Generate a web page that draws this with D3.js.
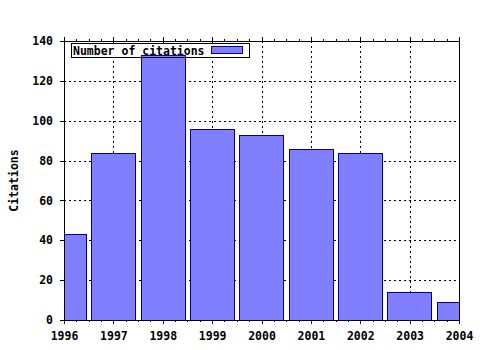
<!DOCTYPE html>
<html lang="en">
<head>
  <meta charset="UTF-8">
  <title>Citations per year</title>
  <script src="https://d3js.org/d3.v7.min.js"></script>
  <style>
    body { margin: 0; background: #fff; }
    text { font-family: "DejaVu Sans Mono", monospace; font-weight: bold; font-size: 11.5px; fill: #000; }
  </style>
</head>
<body>
  <svg width="480" height="350"></svg>
  <script>
    // data
    const years = [1996, 1997, 1998, 1999, 2000, 2001, 2002, 2003, 2004];
    const citations = [43, 84, 133, 96, 93, 86, 84, 14, 9];
    const yTicks = [0, 20, 40, 60, 80, 100, 120, 140];
    const seriesName = "Number of citations";
    const yLabel = "Citations";

    const svg = d3.select("svg");
    const plotL = 64, plotR = 459, plotT = 41, plotB = 320;

    const x = d3.scaleLinear().domain([1996, 2004]).range([plotL, plotR]);
    const y = d3.scaleLinear().domain([0, 140]).range([plotB, plotT]);
    const barW = x(1996.9) - x(1996);

    const data = years.map((yr, i) => ({ year: yr, value: citations[i] }));

    // grid
    const grid = svg.append("g")
      .attr("stroke", "#000")
      .attr("stroke-dasharray", "2,3")
      .attr("shape-rendering", "crispEdges");
    grid.selectAll(".gx")
      .data(years.slice(1, -1))
      .enter()
      .append("line")
      .attr("x1", d => Math.round(x(d)) + 0.5)
      .attr("x2", d => Math.round(x(d)) + 0.5)
      .attr("y1", plotT)
      .attr("y2", plotB);
    grid.selectAll(".gy")
      .data(yTicks.slice(1, -1))
      .enter()
      .append("line")
      .attr("x1", plotL)
      .attr("x2", plotR)
      .attr("y1", d => Math.round(y(d)) + 0.5)
      .attr("y2", d => Math.round(y(d)) + 0.5);

    // key background hides the grid
    const keyX = 71, keyY = 43, keyW = 178, keyH = 14;
    svg.append("rect")
      .attr("x", keyX).attr("y", keyY)
      .attr("width", keyW).attr("height", keyH)
      .attr("fill", "#fff");

    // bars
    svg.append("clipPath").attr("id", "plot")
      .append("rect")
      .attr("x", plotL).attr("y", plotT)
      .attr("width", plotR - plotL).attr("height", plotB - plotT);

    svg.append("g")
      .attr("clip-path", "url(#plot)")
      .selectAll("rect")
      .data(data)
      .enter()
      .append("rect")
      .attr("x", d => Math.round(x(d.year) - barW / 2) + 0.5)
      .attr("y", d => Math.round(y(d.value)) + 0.5)
      .attr("width", Math.round(barW))
      .attr("height", d => Math.round(plotB - y(d.value)))
      .attr("fill", "#8080ff")
      .attr("stroke", "#0000a0")
      .attr("stroke-width", 1)
      .attr("shape-rendering", "crispEdges");

    // axes
    svg.append("g")
      .attr("transform", `translate(0, ${plotB})`)
      .call(d3.axisBottom(x)
        .tickValues(years)
        .tickFormat(d3.format("d"))
        .tickSize(4)
        .tickPadding(8));

    svg.append("g")
      .attr("transform", `translate(0, ${plotT})`)
      .call(d3.axisTop(x).tickValues(years).tickSize(4).tickFormat(""));

    // minor ticks at quarter years
    const minor = d3.range(1996, 2004, 0.25).filter(v => v % 1 !== 0);
    svg.append("g")
      .attr("transform", `translate(0, ${plotB})`)
      .call(d3.axisBottom(x).tickValues(minor).tickSize(2).tickFormat(""))
      .select(".domain").remove();
    svg.append("g")
      .attr("transform", `translate(0, ${plotT})`)
      .call(d3.axisTop(x).tickValues(minor).tickSize(2).tickFormat(""))
      .select(".domain").remove();

    svg.append("g")
      .attr("transform", `translate(${plotL}, 0)`)
      .call(d3.axisLeft(y).tickValues(yTicks).tickSize(4).tickPadding(7));

    svg.append("g")
      .attr("transform", `translate(${plotR}, 0)`)
      .call(d3.axisRight(y).tickValues(yTicks).tickSize(0).tickFormat(""));

    svg.selectAll(".domain").attr("stroke-width", 1.6).attr("shape-rendering", "crispEdges");
    svg.selectAll(".tick line").attr("shape-rendering", "crispEdges");
    svg.selectAll(".tick text")
      .style("font-family", "DejaVu Sans Mono, monospace")
      .style("font-weight", "bold")
      .style("font-size", "11.5px");

    // y label
    svg.append("text")
      .attr("transform", `translate(18, ${(plotT + plotB) / 2}) rotate(-90)`)
      .attr("text-anchor", "middle")
      .text(yLabel);

    // key
    svg.append("rect")
      .attr("x", keyX + 0.5).attr("y", keyY + 0.5)
      .attr("width", keyW).attr("height", keyH)
      .attr("fill", "none")
      .attr("stroke", "#000");
    svg.append("text")
      .attr("x", keyX + 2).attr("y", keyY + 12)
      .text(seriesName);
    svg.append("rect")
      .attr("x", 211.5).attr("y", 46.5)
      .attr("width", 31).attr("height", 7)
      .attr("fill", "#8080ff")
      .attr("stroke", "#0000a0");
  </script>
</body>
</html>
